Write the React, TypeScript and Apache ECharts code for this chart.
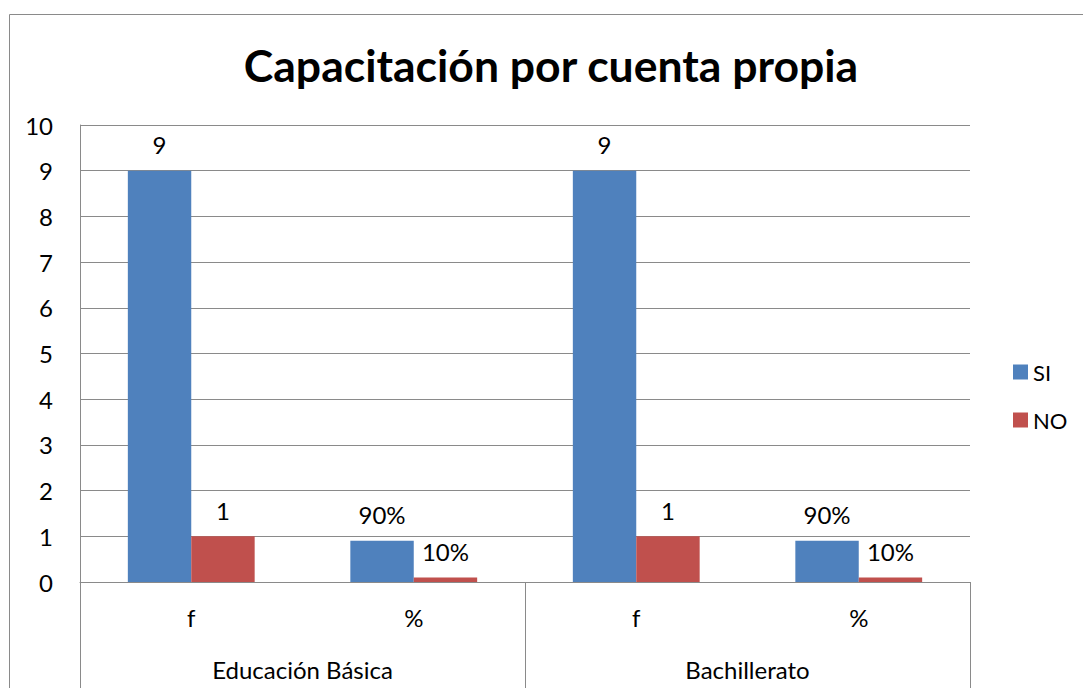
import React, { useEffect, useRef } from "react";
import * as echarts from "echarts";

const titleText = "Capacitación por cuenta propia";
const levelLabels = ["f", "%", "f", "%"];
const groupLabels = ["Educación Básica", "Bachillerato"];
const seriesNames = ["SI", "NO"];
const siValues = [9, 0.9, 9, 0.9];
const noValues = [1, 0.1, 1, 0.1];
const siLabels = ["9", "90%", "9", "90%"];
const noLabels = ["1", "10%", "1", "10%"];
const yTicks = [0, 1, 2, 3, 4, 5, 6, 7, 8, 9, 10];

const FONT = "Lato, 'Open Sans', sans-serif";
const GRAY = "#8a8a8a";

export default function App() {
  const ref = useRef<HTMLDivElement>(null);
  useEffect(() => {
    if (!ref.current) return;
    const chart = echarts.init(ref.current, null, { renderer: "svg" });
    chart.setOption({
      animation: false,
      backgroundColor: "#ffffff",
      textStyle: { fontFamily: FONT },
      graphic: [
        {
          type: "rect",
          shape: { x: 9.5, y: 14.5, width: 1200, height: 800 },
          style: { fill: "none", stroke: GRAY, lineWidth: 1 },
          silent: true,
        },
        {
          type: "text",
          x: 551,
          y: 64,
          style: {
            text: titleText,
            fontFamily: FONT,
            fontWeight: "bold",
            fontSize: 44.5,
            fill: "#000",
            textAlign: "center",
            textVerticalAlign: "middle",
          },
        },
      ],
      legend: {
        orient: "vertical",
        left: 1013,
        top: 361,
        padding: 0,
        itemWidth: 15,
        itemHeight: 15,
        itemGap: 26,
        icon: "rect",
        data: seriesNames,
        textStyle: { fontSize: 22, color: "#000", fontFamily: FONT },
      },
      grid: { left: 80, top: 125, right: 113, bottom: 106, containLabel: false },
      xAxis: [
        {
          type: "category",
          data: levelLabels,
          position: "bottom",
          axisLine: { show: true, lineStyle: { color: GRAY, width: 1 } },
          axisTick: { show: false },
          axisLabel: { fontSize: 24, color: "#000", margin: 23, interval: 0, fontFamily: FONT },
          splitLine: { show: false },
        },
        {
          type: "category",
          data: groupLabels,
          position: "bottom",
          axisLine: { show: false },
          axisTick: { show: true, length: 110, interval: 0, lineStyle: { color: GRAY, width: 1 } },
          axisLabel: { fontSize: 24, color: "#000", margin: 75, interval: 0, fontFamily: FONT },
          splitLine: { show: false },
        },
      ],
      yAxis: {
        type: "value",
        min: yTicks[0],
        max: yTicks[yTicks.length - 1],
        interval: 1,
        axisLine: { show: true, lineStyle: { color: GRAY, width: 1 } },
        axisTick: { show: false },
        axisLabel: { fontSize: 24, color: "#000", margin: 27, fontFamily: FONT },
        splitLine: { show: true, lineStyle: { color: GRAY, width: 1 } },
      },
      series: [
        {
          name: seriesNames[0],
          type: "bar",
          xAxisIndex: 0,
          data: siValues,
          barGap: "0%",
          barCategoryGap: "43%",
          itemStyle: { color: "#4F81BD" },
          label: {
            show: true,
            position: "top",
            distance: 14,
            fontSize: 24,
            color: "#000",
            fontFamily: FONT,
            formatter: (p: any) => siLabels[p.dataIndex],
          },
        },
        {
          name: seriesNames[1],
          type: "bar",
          xAxisIndex: 0,
          data: noValues,
          barGap: "0%",
          barCategoryGap: "43%",
          itemStyle: { color: "#C0504D" },
          label: {
            show: true,
            position: "top",
            distance: 14,
            fontSize: 24,
            color: "#000",
            fontFamily: FONT,
            formatter: (p: any) => noLabels[p.dataIndex],
          },
        },
      ],
    });
    return () => chart.dispose();
  }, []);
  return (
    <div
      ref={ref}
      style={{ position: "fixed", left: 0, top: 0, width: 1083, height: 688, background: "#fff" }}
    />
  );
}
